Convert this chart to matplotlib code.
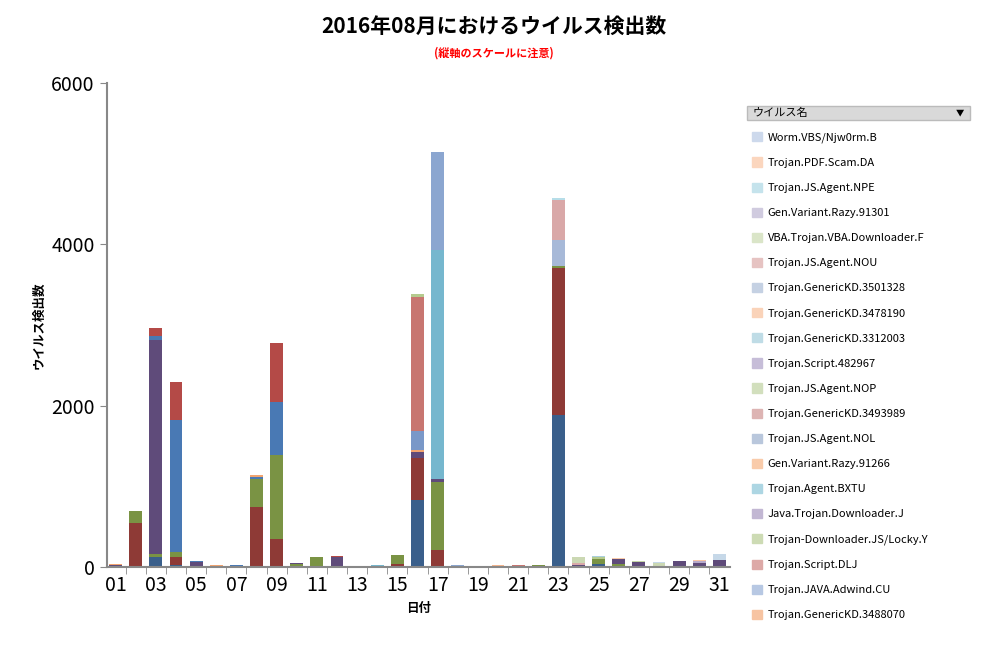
import matplotlib.pyplot as plt
import matplotlib.patches as mpatches
import numpy as np

plt.rcParams['font.family'] = ['Noto Sans CJK JP', 'DejaVu Sans']

# days of August 2016
days = list(range(1, 32))
day_labels = ['%02d' % d for d in days]

# values per series as {day: count}; dark series are the big ones, not shown in the legend
dark_blue = {3: 130, 4: 30, 16: 830, 23: 1885, 25: 40, 27: 10}
dark_red = {1: 10, 2: 540, 4: 100, 8: 745, 9: 345, 15: 40, 16: 520, 17: 210, 23: 1825, 26: 10}
olive = {2: 155, 3: 30, 4: 50, 8: 345, 9: 1045, 10: 40, 11: 130, 15: 110, 17: 845,
         19: 15, 22: 20, 23: 20, 25: 60, 26: 25}
purple = {1: 20, 3: 2655, 5: 60, 10: 10, 12: 120, 16: 80, 17: 30, 24: 20, 26: 60, 27: 50,
          29: 70, 30: 50, 31: 90}
blue = {3: 50, 4: 1640, 5: 20, 7: 20, 8: 20, 9: 655, 14: 10}
red = {3: 100, 4: 470, 8: 10, 9: 735, 12: 15, 21: 10}

hidden_series = [dark_blue, dark_red, olive, purple, blue, red]
hidden_colors = ['#3A5F8B', '#8E3A36', '#7A9344', '#5F4B7A', '#4979B4', '#B44A47']

# legend series, bottom of legend first
legend_names = ['Trojan.GenericKD.3488070', 'Trojan.JAVA.Adwind.CU', 'Trojan.Script.DLJ',
                'Trojan-Downloader.JS/Locky.Y', 'Java.Trojan.Downloader.J', 'Trojan.Agent.BXTU',
                'Gen.Variant.Razy.91266', 'Trojan.JS.Agent.NOL', 'Trojan.GenericKD.3493989',
                'Trojan.JS.Agent.NOP', 'Trojan.Script.482967', 'Trojan.GenericKD.3312003',
                'Trojan.GenericKD.3478190', 'Trojan.GenericKD.3501328', 'Trojan.JS.Agent.NOU',
                'VBA.Trojan.VBA.Downloader.F', 'Gen.Variant.Razy.91301', 'Trojan.JS.Agent.NPE',
                'Trojan.PDF.Scam.DA', 'Worm.VBS/Njw0rm.B']
legend_values = [
    {1: 5, 6: 20, 8: 15, 16: 15},
    {17: 1215, 18: 20},
    {16: 1665, 21: 15},
    {16: 30, 25: 20},
    {18: 10},
    {14: 10, 17: 2845, 20: 15},
    {20: 10},
    {23: 320},
    {28: 15},
    {27: 20},
    {30: 20},
    {25: 20},
    {30: 15},
    {16: 240},
    {23: 495, 24: 30, 29: 10},
    {24: 80, 28: 30},
    {26: 10},
    {23: 30},
    {26: 10},
    {28: 20, 31: 70},
]
legend_colors = ['#F2A46F', '#8BA6D0', '#C87670', '#B5CB8E', '#A595BD', '#76B7CE',
                 '#F6B58D', '#A7B9D8', '#D7A6A5', '#C5D6A7', '#B6AACB', '#ABCFDD',
                 '#F8C5A5', '#7A98C8', '#D9A8A8', '#CBD8B3', '#C3BDD5', '#B6DDE8',
                 '#F9CBAA', '#C6D8E8']
legend_swatch = ['#F7C4A2', '#B7C8E3', '#DDA9A7', '#CDDBB4', '#C2B7D3', '#ADD6E3',
                 '#F9CBAA', '#B9C7DC', '#DDB4B3', '#D2DFBD', '#C6BDD8', '#BFDCE6',
                 '#FAD3B9', '#C5D1E3', '#E6C3C2', '#DAE5C8', '#D0CBDF', '#C5E3EC',
                 '#FBD6BE', '#CDD9EC']
# order in which the legend series are stacked (indices into the lists above)
stack_order = [0, 4, 13, 2, 3, 5, 1, 6, 7, 14, 8, 9, 10, 11, 12, 15, 16, 17, 18, 19]


def expand(d):
    return np.array([d.get(x, 0) for x in days], dtype=float)


fig = plt.figure(figsize=(9.87, 6.48), dpi=100)
ax = fig.add_axes([0.108, 0.125, 0.632, 0.747])

bottom = np.zeros(len(days))
for d, c in zip(hidden_series, hidden_colors):
    v = expand(d)
    ax.bar(days, v, bottom=bottom, width=0.64, color=c, label='_nolegend_')
    bottom += v

for i in stack_order:
    v = expand(legend_values[i])
    ax.bar(days, v, bottom=bottom, width=0.64, color=legend_colors[i])
    bottom += v

handles = [mpatches.Patch(color=sw, label=name) for sw, name in zip(legend_swatch, legend_names)]

ax.set_xlim(0.55, 31.55)
ax.set_ylim(0, 6000)
ax.set_yticks([0, 2000, 4000, 6000])
ax.tick_params(axis='y', labelsize=14, length=5, color='#888888')
ax.set_xticks(days[::2])
ax.set_xticklabels(day_labels[::2], fontsize=14)
ax.set_xticks(np.arange(1.5, 31.5, 1), minor=True)
ax.tick_params(axis='x', which='major', length=0, pad=6)
ax.tick_params(axis='x', which='minor', length=5, color='#888888')
for s in ['top', 'right']:
    ax.spines[s].set_visible(False)
for s in ['left', 'bottom']:
    ax.spines[s].set_color('#888888')
    ax.spines[s].set_linewidth(1.5)

ax.set_xlabel('日付', fontsize=9, fontweight='bold')
ax.set_ylabel('ウイルス検出数', fontsize=9, fontweight='bold')

fig.text(0.5, 0.95, '2016年08月におけるウイルス検出数', ha='center', fontsize=15, fontweight='bold')
fig.text(0.5, 0.912, '(縦軸のスケールに注意)', ha='center', fontsize=8, fontweight='bold', color='red')

# pivot-style legend header
fig.patches.append(mpatches.Rectangle((0.757, 0.815), 0.226, 0.022, transform=fig.transFigure,
                                      facecolor='#D9D9D9', edgecolor='#BBBBBB'))
fig.text(0.762, 0.826, 'ウイルス名', fontsize=8, va='center')
fig.text(0.973, 0.826, '▼', fontsize=6, va='center', ha='center')

fig.legend(handles=handles[::-1], loc='upper left', bbox_to_anchor=(0.752, 0.812),
           frameon=False, fontsize=8, handlelength=0.9, handleheight=0.9,
           labelspacing=1.32, handletextpad=0.5)

fig.savefig('out.png', dpi=100)
